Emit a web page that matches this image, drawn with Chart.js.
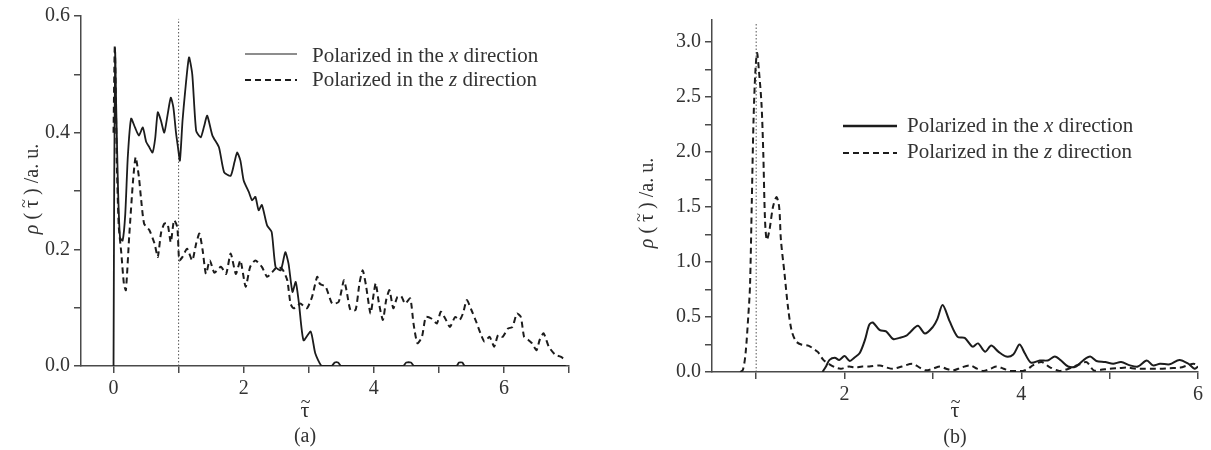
<!DOCTYPE html>
<html>
<head>
<meta charset="utf-8">
<script src="https://cdn.jsdelivr.net/npm/chart.js@4.4.1/dist/chart.umd.min.js"></script>
<style>
  html, body { margin: 0; padding: 0; background: #ffffff; }
  #wrap { position: relative; width: 1211px; height: 450px; overflow: hidden; }
  canvas { position: absolute; top: 0; }
  #panelA { left: 0; }
  #panelB { left: 600px; }
</style>
</head>
<body>
<div id="wrap">
  <canvas id="panelA" width="600" height="450"></canvas>
  <canvas id="panelB" width="611" height="450"></canvas>
</div>
<script>
// ---- Panel (a): density of reduced delay time ----
const aXTau = [0, 0.01, 0.025, 0.04, 0.07, 0.1, 0.14, 0.18, 0.22, 0.27,
  0.33, 0.39, 0.45, 0.5, 0.55, 0.6, 0.64, 0.68, 0.73, 0.78,
  0.83, 0.88, 0.92, 0.96, 0.99, 1.02, 1.06, 1.1, 1.16, 1.21,
  1.27, 1.34, 1.39, 1.44, 1.52, 1.62, 1.7, 1.8, 1.86, 1.9,
  1.95, 2.0, 2.08, 2.13, 2.18, 2.23, 2.28, 2.36, 2.43, 2.49,
  2.57, 2.64, 2.69, 2.75, 2.8, 2.85, 2.92, 3.03, 3.1, 3.2,
  3.35, 3.4, 3.45, 3.5, 4.45, 4.5, 4.57, 4.62, 5.27, 5.31,
  5.36, 5.4, 6.95];
const aXRho = [0, 0.3, 0.537, 0.45, 0.3, 0.22, 0.215, 0.26, 0.36, 0.424,
  0.409, 0.395, 0.409, 0.385, 0.375, 0.366, 0.39, 0.435, 0.42, 0.40,
  0.43, 0.46, 0.443, 0.4, 0.375, 0.352, 0.42, 0.47, 0.529, 0.50,
  0.403, 0.392, 0.41, 0.429, 0.395, 0.375, 0.332, 0.326, 0.35, 0.366,
  0.352, 0.318, 0.298, 0.284, 0.29, 0.267, 0.276, 0.241, 0.23, 0.17,
  0.164, 0.195, 0.175, 0.127, 0.144, 0.107, 0.044, 0.059, 0.022, 0,
  0, 0.006, 0.006, 0, 0, 0.006, 0.006, 0, 0, 0.006,
  0.006, 0, 0];
const aZTau = [0, 0.02, 0.05, 0.08, 0.12, 0.16, 0.19, 0.24, 0.3, 0.34,
  0.39, 0.42, 0.47, 0.55, 0.63, 0.68, 0.73, 0.78, 0.83, 0.88,
  0.93, 0.98, 1.01, 1.06, 1.13, 1.21, 1.27, 1.32, 1.37, 1.42,
  1.48, 1.55, 1.65, 1.73, 1.8, 1.88, 1.95, 2.03, 2.1, 2.18,
  2.28, 2.36, 2.44, 2.52, 2.6, 2.67, 2.72, 2.77, 2.87, 2.97,
  3.05, 3.13, 3.17, 3.26, 3.36, 3.46, 3.54, 3.58, 3.64, 3.72,
  3.78, 3.83, 3.88, 3.95, 4.0, 4.03, 4.08, 4.14, 4.19, 4.24,
  4.3, 4.36, 4.42, 4.48, 4.56, 4.61, 4.67, 4.74, 4.8, 4.89,
  4.97, 5.03, 5.1, 5.17, 5.25, 5.32, 5.37, 5.43, 5.5, 5.57,
  5.64, 5.7, 5.78, 5.85, 5.91, 5.98, 6.06, 6.13, 6.2, 6.26,
  6.31, 6.37, 6.43, 6.5, 6.55, 6.61, 6.69, 6.79, 6.87, 6.95];
const aZRho = [0.4, 0.55, 0.35, 0.24, 0.193, 0.14, 0.13, 0.221, 0.318, 0.358,
  0.324, 0.29, 0.244, 0.233, 0.21, 0.187, 0.228, 0.244, 0.244, 0.212,
  0.25, 0.238, 0.181, 0.187, 0.201, 0.181, 0.21, 0.227, 0.198, 0.158,
  0.181, 0.16, 0.17, 0.158, 0.193, 0.158, 0.181, 0.136, 0.17, 0.181,
  0.17, 0.153, 0.161, 0.17, 0.165, 0.147, 0.107, 0.099, 0.107, 0.099,
  0.118, 0.153, 0.141, 0.136, 0.107, 0.11, 0.147, 0.13, 0.096, 0.096,
  0.142, 0.164, 0.138, 0.09, 0.125, 0.142, 0.107, 0.079, 0.113, 0.13,
  0.099, 0.118, 0.12, 0.107, 0.116, 0.073, 0.039, 0.05, 0.084, 0.081,
  0.073, 0.093, 0.081, 0.067, 0.084, 0.079, 0.09, 0.113, 0.096, 0.077,
  0.056, 0.042, 0.05, 0.033, 0.053, 0.05, 0.064, 0.067, 0.09, 0.084,
  0.05, 0.045, 0.039, 0.027, 0.045, 0.056, 0.033, 0.019, 0.016, 0.01];
const aXTicks = [0, 1, 2, 3, 4, 5, 6, 7];
const aXTickLabels = ['0', '', '2', '', '4', '', '6', ''];
const aYTicks = [0, 0.1, 0.2, 0.3, 0.4, 0.5, 0.6];
const aYTickLabels = ['0.0', '', '0.2', '', '0.4', '', '0.6'];
const aMarkerTop = 0.595;

// ---- Panel (b) ----
const bXTau = [1.75, 1.79, 1.83, 1.89, 1.94, 2.0, 2.06, 2.11, 2.17, 2.23,
  2.28, 2.32, 2.4, 2.47, 2.55, 2.62, 2.7, 2.74, 2.83, 2.91,
  3.0, 3.05, 3.11, 3.19, 3.28, 3.36, 3.45, 3.51, 3.59, 3.66,
  3.74, 3.83, 3.91, 3.98, 4.04, 4.11, 4.21, 4.3, 4.38, 4.45,
  4.53, 4.62, 4.7, 4.78, 4.85, 4.95, 5.04, 5.13, 5.23, 5.32,
  5.42, 5.49, 5.57, 5.68, 5.79, 5.89, 5.96, 6.0];
const bXRho = [0, 0.05, 0.11, 0.13, 0.11, 0.145, 0.1, 0.13, 0.17, 0.29,
  0.43, 0.45, 0.38, 0.37, 0.3, 0.31, 0.33, 0.36, 0.42, 0.35,
  0.41, 0.48, 0.61, 0.46, 0.32, 0.31, 0.23, 0.26, 0.185, 0.24,
  0.185, 0.14, 0.16, 0.25, 0.17, 0.085, 0.105, 0.105, 0.14, 0.105,
  0.05, 0.05, 0.105, 0.14, 0.1, 0.09, 0.075, 0.09, 0.06, 0.05,
  0.105, 0.06, 0.075, 0.07, 0.11, 0.075, 0.03, 0.05];
const bZTau = [0.82, 0.85, 0.88, 0.91, 0.93, 0.95, 0.97, 0.99, 1.01, 1.03,
  1.06, 1.08, 1.10, 1.12, 1.15, 1.19, 1.23, 1.26, 1.28, 1.32,
  1.36, 1.40, 1.45, 1.51, 1.59, 1.65, 1.70, 1.76, 1.83, 1.9,
  1.96, 2.05, 2.12, 2.2, 2.28, 2.4, 2.48, 2.55, 2.65, 2.77,
  2.85, 2.92, 3.0, 3.08, 3.15, 3.23, 3.32, 3.42, 3.5, 3.57,
  3.65, 3.72, 3.8, 3.87, 3.95, 4.02, 4.08, 4.13, 4.23, 4.32,
  4.43, 4.5, 4.58, 4.66, 4.74, 4.82, 4.9, 5.0, 5.1, 5.2,
  5.3, 5.38, 5.48, 5.57, 5.68, 5.8, 5.88, 5.95, 6.0];
const bZRho = [0, 0.02, 0.17, 0.5, 0.78, 1.53, 2.29, 2.72, 2.9, 2.75,
  2.44, 2.0, 1.38, 1.2, 1.29, 1.50, 1.59, 1.5, 1.2, 0.9,
  0.59, 0.38, 0.28, 0.25, 0.24, 0.21, 0.18, 0.11, 0.07, 0.04,
  0.03, 0.05, 0.04, 0.05, 0.05, 0.06, 0.04, 0.03, 0.05, 0.075,
  0.04, 0.015, 0.03, 0.05, 0.03, 0.015, 0.04, 0.06, 0.03, 0.01,
  0.03, 0.05, 0.03, 0.01, 0.01, 0.01, 0.03, 0.06, 0.09, 0.045,
  0.01, 0.02, 0.045, 0.07, 0.09, 0.015, 0.02, 0.03, 0.035, 0.04,
  0.03, 0.03, 0.03, 0.03, 0.035, 0.04, 0.06, 0.075, 0.06];
const bXTicks = [1, 2, 3, 4, 5, 6];
const bXTickLabels = ['', '2', '', '4', '', '6'];
const bYTicks = [0, 0.25, 0.5, 0.75, 1.0, 1.25, 1.5, 1.75, 2.0, 2.25, 2.5, 2.75, 3.0];
const bYTickLabels = ['0.0', '', '0.5', '', '1.0', '', '1.5', '', '2.0', '', '2.5', '', '3.0'];
const bMarkerTop = 3.17;

// Shared text: 'i' italic, 'n' upright, 't' tau carrying a tilde
const markerTau = 1;
const seriesAxes = ['x', 'z'];
const yTitleParts = [['ρ', 'i'], [' ( ', 'n'], ['τ', 't'], [' ) /a. u.', 'n']];
const xTitleParts = [['τ', 't']];

const INK = '#1c1c1c';
const AXIS = '#4a4a4a';
const TEXT = '#333333';
const SERIF = '"Liberation Serif", "Times New Roman", serif';

function fontFor(style, size) {
  return (style === 'i' ? 'italic ' : '') + size + 'px ' + SERIF;
}

// Writes a run of styled pieces centred on (0, 0) of the current transform
function drawRun(ctx, parts, size, align) {
  let total = 0;
  parts.forEach(([t, s]) => { ctx.font = fontFor(s, size); total += ctx.measureText(t).width; });
  let x = align === 'left' ? 0 : -total / 2;
  ctx.textAlign = 'left';
  ctx.textBaseline = 'alphabetic';
  const base = size * 0.33;
  parts.forEach(([t, s]) => {
    ctx.font = fontFor(s, size);
    const w = ctx.measureText(t).width;
    ctx.fillText(t, x, base);
    if (s === 't') {
      ctx.font = Math.round(size * 0.8) + 'px ' + SERIF;
      ctx.textAlign = 'center';
      ctx.fillText('~', x + w / 2 + size * 0.03, base - size * 0.42);
      ctx.textAlign = 'left';
    }
    x += w;
  });
}

// Draws axis titles, panel tag and the in-plot legend
const panelText = {
  id: 'panelText',
  afterDraw(chart, args, o) {
    const ctx = chart.ctx;
    const area = chart.chartArea;
    ctx.save();
    ctx.fillStyle = TEXT;

    ctx.save();
    ctx.translate(o.yTitleX, (area.top + area.bottom) / 2 + o.yTitleShift);
    ctx.rotate(-Math.PI / 2);
    drawRun(ctx, yTitleParts, 20, 'center');
    ctx.restore();

    ctx.save();
    ctx.translate(o.xTitleX, o.xTitleY);
    drawRun(ctx, xTitleParts, 22, 'center');
    ctx.restore();

    ctx.save();
    ctx.translate(o.xTitleX, o.tagY);
    drawRun(ctx, [[o.tag, 'n']], 20, 'center');
    ctx.restore();

    const L = o.legend;
    chart.data.datasets.slice(0, 2).forEach((ds, i) => {
      const y = L.rows[i];
      ctx.save();
      ctx.strokeStyle = ds.borderColor;
      ctx.lineWidth = L.widths[i];
      ctx.setLineDash(ds.borderDash || []);
      ctx.beginPath();
      ctx.moveTo(L.x0, y);
      ctx.lineTo(L.x1, y);
      ctx.stroke();
      ctx.restore();
      ctx.save();
      ctx.translate(L.textX, L.textRows[i]);
      drawRun(ctx, [['Polarized in the ', 'n'], [seriesAxes[i], 'i'], [' direction', 'n']], 21, 'left');
      ctx.restore();
    });
    ctx.restore();
  }
};

function makePanel(id, c) {
  const toPts = (xs, ys) => xs.map((x, i) => ({ x: x, y: ys[i] }));
  const axisFont = { family: SERIF, size: 20 };
  return new Chart(document.getElementById(id), {
    type: 'scatter',
    data: {
      datasets: [
        { label: 'Polarized in the x direction', data: toPts(c.xTau, c.xRho), showLine: true,
          borderColor: INK, borderWidth: c.solidWidth, pointRadius: 0, tension: c.tension, fill: false },
        { label: 'Polarized in the z direction', data: toPts(c.zTau, c.zRho), showLine: true,
          borderColor: INK, borderWidth: 2, borderDash: [6, 4], pointRadius: 0, tension: c.tension, fill: false },
        { label: 'marker', data: [{ x: markerTau, y: 0 }, { x: markerTau, y: c.markerTop }], showLine: true,
          borderColor: '#555', borderWidth: 1, borderDash: [1.5, 2], pointRadius: 0, fill: false }
      ]
    },
    options: {
      responsive: false,
      animation: false,
      devicePixelRatio: 1,
      layout: { padding: c.padding },
      plugins: {
        legend: { display: false },
        tooltip: { enabled: false },
        panelText: c.text
      },
      scales: {
        x: {
          type: 'linear', min: c.xMin, max: c.xMax,
          afterBuildTicks: s => { s.ticks = c.xTicks.map(v => ({ value: v })); },
          afterFit: s => { s.height = c.xAxisH; },
          ticks: { callback: (v, i) => c.xTickLabels[i], font: axisFont, color: TEXT, padding: 4,
                   maxRotation: 0, autoSkip: false },
          grid: { drawOnChartArea: false, drawTicks: true, tickLength: 7, color: AXIS, lineWidth: 1.5 },
          border: { color: AXIS, width: 1.5 }
        },
        y: {
          type: 'linear', min: 0, max: c.yMax,
          afterBuildTicks: s => { s.ticks = c.yTicks.map(v => ({ value: v })); },
          afterFit: s => { s.width = c.yAxisW; },
          ticks: { callback: (v, i) => c.yTickLabels[i], font: axisFont, color: TEXT, padding: 4, autoSkip: false },
          grid: { drawOnChartArea: false, drawTicks: true, tickLength: 7, color: AXIS, lineWidth: 1.5 },
          border: { color: AXIS, width: 1.5 }
        }
      }
    },
    plugins: [panelText]
  });
}

makePanel('panelA', {
  xTau: aXTau, xRho: aXRho, zTau: aZTau, zRho: aZRho,
  xTicks: aXTicks, xTickLabels: aXTickLabels, yTicks: aYTicks, yTickLabels: aYTickLabels,
  xMin: -0.5, xMax: 7, yMax: 0.6, markerTop: aMarkerTop,
  solidWidth: 1.8, tension: 0.2,
  padding: { left: 0, top: 14, right: 31, bottom: 0 }, yAxisW: 81, xAxisH: 84,
  text: {
    yTitleX: 31, yTitleShift: -2, xTitleX: 305, xTitleY: 410, tagY: 435, tag: '(a)',
    legend: { x0: 245, x1: 297, rows: [54, 80], widths: [1.2, 2], textX: 312, textRows: [55, 79] }
  }
});

makePanel('panelB', {
  xTau: bXTau, xRho: bXRho, zTau: bZTau, zRho: bZRho,
  xTicks: bXTicks, xTickLabels: bXTickLabels, yTicks: bYTicks, yTickLabels: bYTickLabels,
  xMin: 0.5, xMax: 6, yMax: 3.2, markerTop: bMarkerTop,
  solidWidth: 2, tension: 0.3,
  padding: { left: 0, top: 20, right: 13, bottom: 0 }, yAxisW: 112, xAxisH: 78,
  text: {
    yTitleX: 46, yTitleShift: 7, xTitleX: 355, xTitleY: 410, tagY: 436, tag: '(b)',
    legend: { x0: 243, x1: 297, rows: [126, 153], widths: [2.6, 2], textX: 307, textRows: [125, 151] }
  }
});
</script>
</body>
</html>
